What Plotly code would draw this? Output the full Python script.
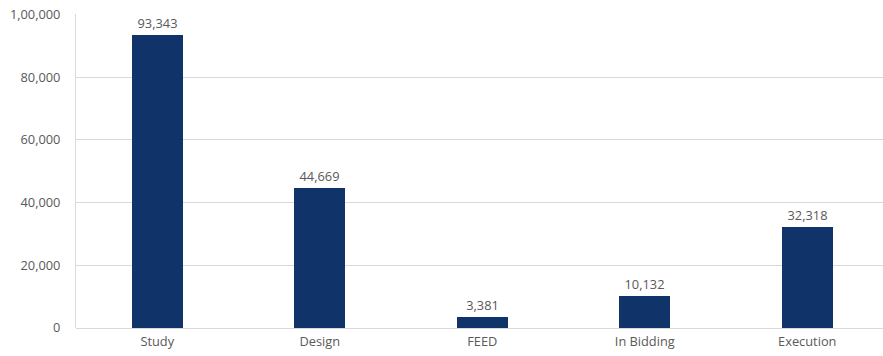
import plotly.graph_objects as go

categories = ["Study", "Design", "FEED", "In Bidding", "Execution"]
values = [93343, 44669, 3381, 10132, 32318]
tick_vals = [0, 20000, 40000, 60000, 80000, 100000]
tick_text = ["0", "20,000", "40,000", "60,000", "80,000", "1,00,000"]

FONT = "Open Sans, Liberation Sans, sans-serif"
TXT = "#595959"

fig = go.Figure(go.Bar(
    x=categories, y=values,
    marker=dict(color="#10346a", line=dict(width=0)),
    width=0.315,
    text=[f"{v:,}" for v in values],
    textposition="outside",
    textfont=dict(family=FONT, size=12.8, color=TXT),
    cliponaxis=False,
    hoverinfo="skip",
))

fig.update_layout(
    width=883, height=356,
    margin=dict(l=76, r=0, t=14, b=28, autoexpand=False),
    plot_bgcolor="white", paper_bgcolor="white",
    showlegend=False,
    font=dict(family=FONT, size=12.8, color=TXT),
    bargap=0,
)
fig.update_xaxes(
    range=[-0.5, 4.466], showgrid=False, showline=False,
    ticks="", ticklabelstandoff=4, automargin=False,
    tickfont=dict(family=FONT, size=12.8, color=TXT),
)
fig.update_yaxes(
    range=[0, 100200], tickvals=tick_vals, ticktext=tick_text,
    showgrid=True, gridcolor="#d9d9d9", gridwidth=1,
    showline=True, linecolor="#d9d9d9", linewidth=1,
    zeroline=True, zerolinecolor="#d9d9d9", zerolinewidth=1,
    ticks="", ticklabelstandoff=12, automargin=False,
    ticklabeloverflow="allow",
    tickfont=dict(family=FONT, size=12.8, color=TXT),
)

fig.write_html("out.html", config={"displayModeBar": False},
               post_script="document.body.style.margin='0';")
